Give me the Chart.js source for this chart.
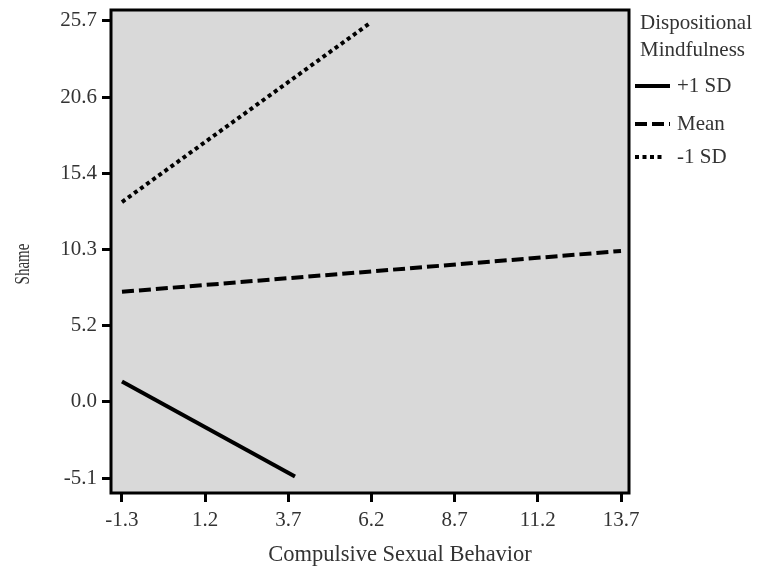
<!DOCTYPE html>
<html>
<head>
<meta charset="utf-8">
<script src="https://cdn.jsdelivr.net/npm/chart.js@4"></script>
<style>
  html, body { margin: 0; padding: 0; background: #fff; }
  #wrap { width: 765px; height: 576px; }
</style>
</head>
<body>
<div id="wrap"><canvas id="chart"></canvas></div>
<script>
// values
const seriesNames = ['+1 SD', 'Mean', '-1 SD'];
const plusSdX = [-1.3, 3.9];
const plusSdY = [1.4, -5.0];
const meanX = [-1.3, 13.7];
const meanY = [7.45, 10.2];
const minusSdX = [-1.3, 6.15];
const minusSdY = [13.5, 25.55];

const xTickValues = [-1.3, 1.2, 3.7, 6.2, 8.7, 11.2, 13.7];
const yTickValues = [-5.1, 0.033, 5.167, 10.3, 15.433, 20.567, 25.7];
const yTickLabels = ['-5.1', '0.0', '5.2', '10.3', '15.4', '20.6', '25.7'];

const FONT = 'Liberation Serif';
const TEXT = '#333';

function points(xs, ys) {
    return xs.map((x, i) => ({ x: x, y: ys[i] }));
}

const dashes = [[], [12, 5], [4, 3.5]];

const plotFrame = {
    id: 'plotFrame',
    beforeDraw(chart) {
        const { ctx, chartArea: a } = chart;
        ctx.save();
        ctx.fillStyle = '#d9d9d9';
        ctx.fillRect(a.left, a.top, a.right - a.left, a.bottom - a.top);
        ctx.restore();
    },
    afterDraw(chart) {
        const { ctx, chartArea: a } = chart;
        ctx.save();
        ctx.strokeStyle = '#000';
        ctx.lineWidth = 3;
        ctx.strokeRect(a.left, a.top, a.right - a.left, a.bottom - a.top);

        ctx.fillStyle = TEXT;
        ctx.textAlign = 'center';
        ctx.textBaseline = 'middle';

        // axis titles sit off-centre in the original
        ctx.font = '22.5px "' + FONT + '"';
        ctx.fillText('Compulsive Sexual Behavior', 400, 555);

        ctx.save();
        ctx.translate(24, 264);
        ctx.rotate(-Math.PI / 2);
        ctx.scale(1, 1.35);
        ctx.font = '15px "' + FONT + '"';
        ctx.fillText('Shame', 0, 0);
        ctx.restore();

        // legend on the right
        const lx = a.right + 11;
        ctx.textAlign = 'left';
        ctx.font = '21px "' + FONT + '"';
        ctx.fillText('Dispositional', lx, 23);
        ctx.fillText('Mindfulness', lx, 50);
        const rowY = [86, 124, 157];
        const sampleLen = [35, 35, 28];
        chart.data.datasets.forEach((ds, i) => {
            const y = rowY[i];
            ctx.beginPath();
            ctx.setLineDash(ds.borderDash || []);
            ctx.lineWidth = ds.borderWidth;
            ctx.strokeStyle = ds.borderColor;
            ctx.moveTo(lx - 5, y);
            ctx.lineTo(lx - 5 + sampleLen[i], y);
            ctx.stroke();
            ctx.setLineDash([]);
            ctx.fillText(ds.label, lx + 37, y);
        });
        ctx.restore();
    }
};

new Chart(document.getElementById('chart').getContext('2d'), {
    type: 'line',
    data: {
        datasets: [
            { label: seriesNames[0], data: points(plusSdX, plusSdY), borderDash: dashes[0] },
            { label: seriesNames[1], data: points(meanX, meanY), borderDash: dashes[1] },
            { label: seriesNames[2], data: points(minusSdX, minusSdY), borderDash: dashes[2] }
        ].map(ds => Object.assign(ds, {
            borderColor: '#000',
            borderWidth: 4,
            borderCapStyle: 'butt',
            pointRadius: 0,
            fill: false,
            tension: 0
        }))
    },
    options: {
        responsive: true,
        maintainAspectRatio: false,
        animation: false,
        layout: { padding: { top: 10, right: 136, left: 0, bottom: 0 } },
        plugins: {
            legend: { display: false },
            tooltip: { enabled: false }
        },
        scales: {
            x: {
                type: 'linear',
                min: -1.63,
                max: 13.94,
                afterFit: scale => {
                    scale.height = 83;
                    scale.paddingLeft = 0;
                    scale.paddingRight = 0;
                },
                afterBuildTicks: scale => { scale.ticks = xTickValues.map(v => ({ value: v })); },
                ticks: {
                    color: TEXT,
                    font: { family: FONT, size: 21 },
                    padding: 6,
                    maxRotation: 0,
                    autoSkip: false,
                    callback: v => v.toFixed(1)
                },
                grid: { drawOnChartArea: false, tickLength: 9, color: '#000', lineWidth: 3 },
                border: { display: false }
            },
            y: {
                type: 'linear',
                min: -6.11,
                max: 26.44,
                afterFit: scale => {
                    scale.width = 111;
                    scale.paddingTop = 0;
                    scale.paddingBottom = 0;
                },
                afterBuildTicks: scale => { scale.ticks = yTickValues.map(v => ({ value: v })); },
                ticks: {
                    color: TEXT,
                    font: { family: FONT, size: 21 },
                    padding: 5,
                    autoSkip: false,
                    callback: (v, i) => yTickLabels[i]
                },
                grid: { drawOnChartArea: false, tickLength: 9, color: '#000', lineWidth: 3 },
                border: { display: false }
            }
        }
    },
    plugins: [plotFrame]
});
</script>
</body>
</html>
